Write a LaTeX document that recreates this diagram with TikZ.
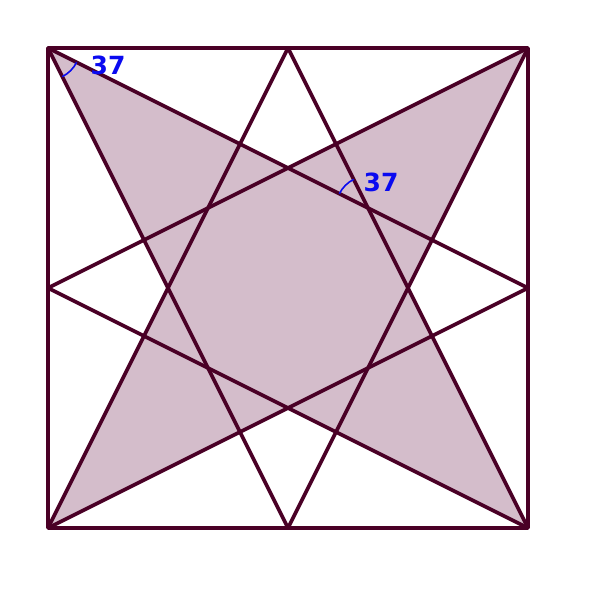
\documentclass[tikz,border=0pt]{standalone}
\usepackage{fontspec}
\setmainfont{DejaVu Sans}
\definecolor{edgec}{HTML}{4A0026}
\definecolor{fillc}{HTML}{D4BDCB}
\definecolor{labc}{HTML}{0A0AF0}
\begin{document}
\begin{tikzpicture}[x=1pt,y=1pt,
  edge/.style={draw=edgec,line width=3.6pt,line join=round},
  kite/.style={fill=fillc},
  angarc/.style={draw=labc,line width=1.6pt},
  anglab/.style={text=labc,font=\bfseries\fontsize{25}{25}\selectfont,inner sep=0pt}]
\useasboundingbox (0,0) rectangle (600,600);
\coordinate (TL) at (48,552);
\coordinate (TR) at (528,552);
\coordinate (BL) at (48,72);
\coordinate (BR) at (528,72);
\coordinate (TM) at (288,552);
\coordinate (BM) at (288,72);
\coordinate (LM) at (48,312);
\coordinate (RM) at (528,312);
\coordinate (P1) at (368,392);
\coordinate (P2) at (208,232);
\coordinate (P3) at (208,392);
\coordinate (P4) at (368,232);
% shaded kites
\fill[kite] (TL) -- (P1) -- (BR) -- (P2) -- cycle;
\fill[kite] (TR) -- (P3) -- (BL) -- (P4) -- cycle;
% star lines
\draw[edge] (TL) -- (RM);
\draw[edge] (TL) -- (BM);
\draw[edge] (TR) -- (LM);
\draw[edge] (TR) -- (BM);
\draw[edge] (BL) -- (TM);
\draw[edge] (BL) -- (RM);
\draw[edge] (BR) -- (TM);
\draw[edge] (BR) -- (LM);
% square
\draw[edge] (TL) -- (TR) -- (BR) -- (BL) -- cycle;
% angle marks
\draw[angarc] ([shift={(-63.43:32)}]TL) arc[start angle=-63.43,end angle=-26.57,radius=32];
\draw[angarc] ([shift={(116.57:32)}]P1) arc[start angle=116.57,end angle=153.43,radius=32];
\node[anglab] (l1) at (108,535) {37};
\node[anglab] (l2) at (381,418) {37};
\end{tikzpicture}
\end{document}
